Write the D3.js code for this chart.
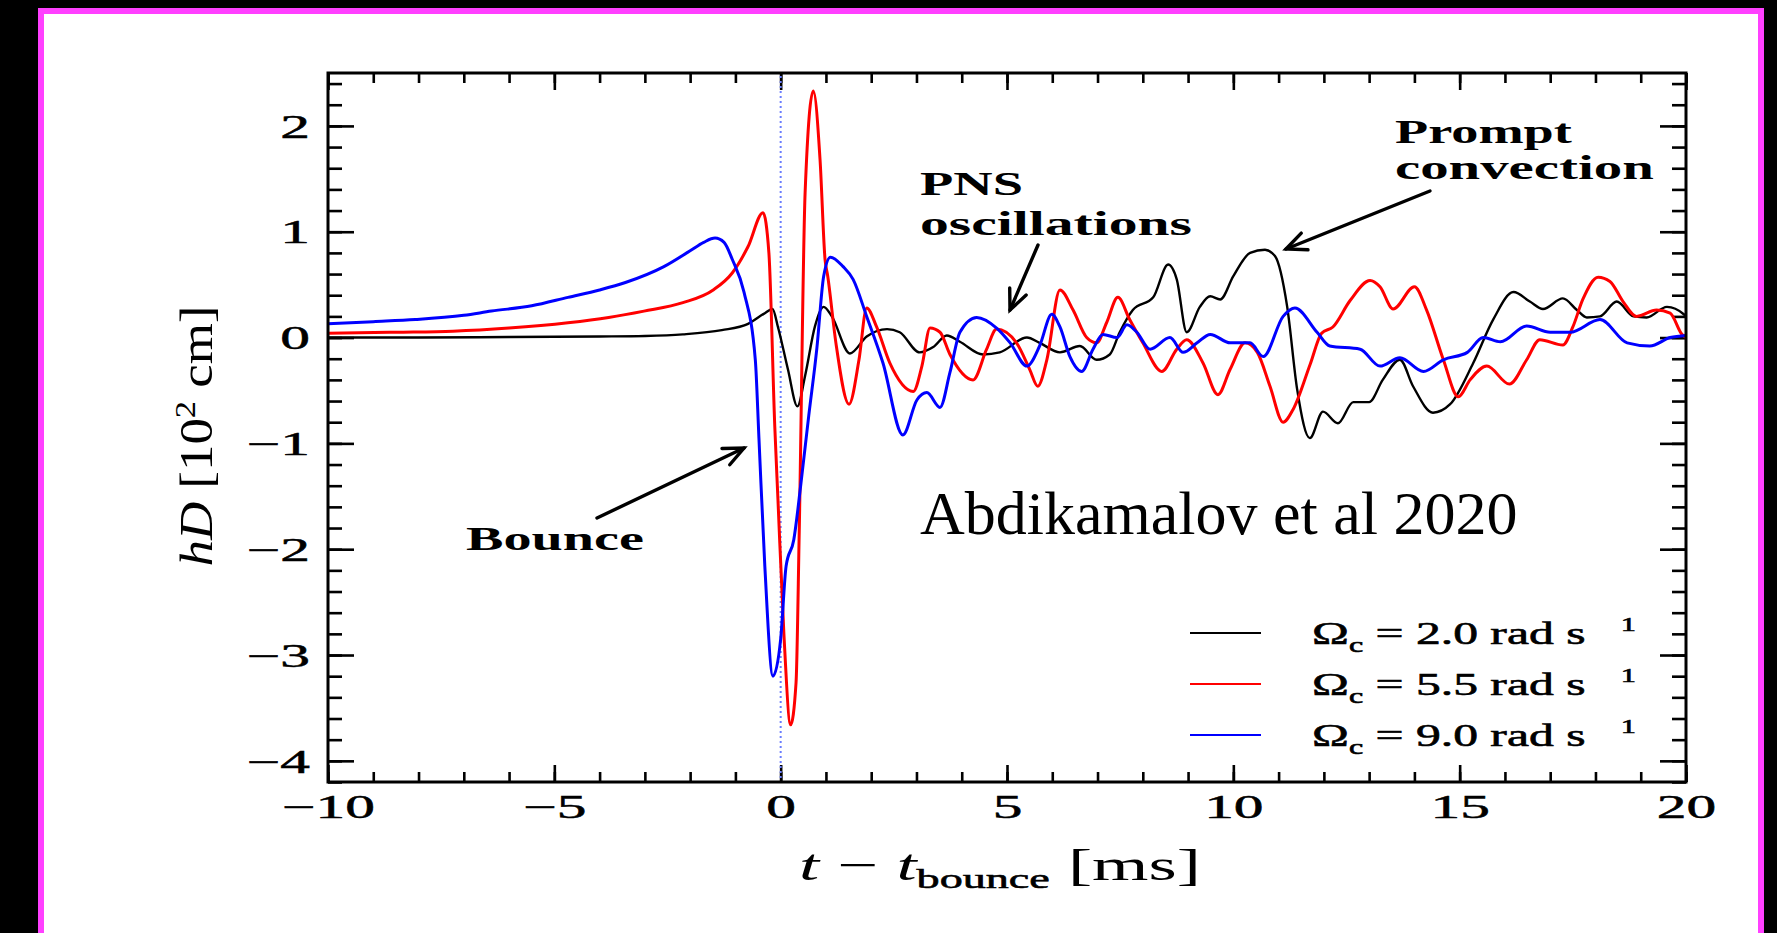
<!DOCTYPE html>
<html>
<head>
<meta charset="utf-8">
<script src="https://cdn.jsdelivr.net/npm/d3@7"></script>
<style>
  html, body { margin: 0; padding: 0; background: #000; }
  svg { display: block; }
</style>
</head>
<body>
<svg id="chart" width="1777" height="933"></svg>
<script>
// Gravitational-wave strain hD (10^2 cm) against time after bounce (ms)
// for three central rotation rates.

const xTicksMajor = [-10, -5, 0, 5, 10, 15, 20];
const yTicksMajor = [-4, -3, -2, -1, 0, 1, 2];
const legendRates = ["2.0", "5.5", "9.0"];

// Omega_c = 2.0 rad/s
const seriesSlow = [
  [-10, 0.0], [-8, 0.0], [-6, 0.005], [-4, 0.01], [-3, 0.015], [-2.16, 0.03],
  [-1.3, 0.07], [-0.72, 0.13], [-0.35, 0.23], [-0.18, 0.27], [-0.06, 0.1],
  [0.16, -0.3], [0.37, -0.65], [0.54, -0.36], [0.76, 0.11], [0.95, 0.29],
  [1.13, 0.2], [1.53, -0.15], [1.9, 0.01], [2.35, 0.08], [2.63, 0.05],
  [3.07, -0.14], [3.37, -0.09], [3.67, 0.02], [3.96, -0.04], [4.47, -0.16],
  [4.84, -0.14], [5.44, 0.0], [5.72, -0.05], [6.17, -0.14], [6.61, -0.08],
  [6.98, -0.21], [7.27, -0.16], [7.49, 0.05], [7.78, 0.26], [8.23, 0.38],
  [8.56, 0.69], [8.75, 0.55], [8.97, 0.05], [9.26, 0.29], [9.49, 0.39],
  [9.71, 0.36], [10.0, 0.58], [10.37, 0.8], [10.7, 0.83], [10.92, 0.77],
  [11.19, 0.29], [11.41, -0.49], [11.69, -0.95], [11.98, -0.7], [12.31, -0.81],
  [12.65, -0.61], [13.0, -0.61], [13.3, -0.4], [13.68, -0.21], [13.97, -0.46],
  [14.41, -0.71], [14.79, -0.63], [15.3, -0.24], [15.74, 0.17], [16.19, 0.43],
  [16.55, 0.34], [16.84, 0.27], [17.28, 0.37], [17.59, 0.26], [17.81, 0.19],
  [18.1, 0.2], [18.47, 0.34], [18.84, 0.2], [19.13, 0.19], [19.58, 0.29],
  [19.95, 0.22], [20, 0.2]
];

// Omega_c = 5.5 rad/s
const seriesMid = [
  [-10, 0.04], [-8.5, 0.05], [-7.24, 0.06], [-6, 0.09], [-4.7, 0.14], [-3.8, 0.19],
  [-3.02, 0.25], [-2.16, 0.33], [-1.49, 0.45], [-1.07, 0.61], [-0.72, 0.86],
  [-0.39, 1.18], [-0.26, 0.8], [-0.13, -0.84], [-0.06, -1.53], [0.07, -2.79],
  [0.22, -3.66], [0.34, -3.26], [0.41, -1.84], [0.54, 1.37], [0.72, 2.33],
  [0.87, 1.68], [0.98, 0.74], [1.04, 0.58], [1.22, -0.05], [1.51, -0.63],
  [1.73, -0.21], [1.9, 0.28], [2.12, 0.1], [2.41, -0.24], [2.93, -0.51],
  [3.12, -0.27], [3.3, 0.09], [3.52, 0.05], [3.74, -0.16], [4.25, -0.4],
  [4.55, -0.11], [4.77, 0.08], [5.21, -0.05], [5.5, -0.3], [5.68, -0.46],
  [5.88, -0.21], [6.17, 0.45], [6.46, 0.26], [6.76, 0.0], [6.98, -0.05],
  [7.2, 0.14], [7.45, 0.38], [7.71, 0.17], [8.0, -0.05], [8.42, -0.32],
  [8.75, -0.11], [8.97, -0.02], [9.33, -0.24], [9.66, -0.54], [9.93, -0.3],
  [10.26, -0.05], [10.53, -0.14], [10.81, -0.46], [11.1, -0.8], [11.32, -0.68],
  [11.7, -0.25], [11.95, 0.04], [12.2, 0.1], [12.58, 0.35], [13.02, 0.54],
  [13.24, 0.48], [13.53, 0.27], [14.0, 0.48], [14.27, 0.26], [14.64, -0.21],
  [14.97, -0.56], [15.23, -0.4], [15.6, -0.27], [16.1, -0.44], [16.48, -0.21],
  [16.77, -0.02], [17.28, -0.07], [17.5, 0.1], [17.72, 0.36], [18.06, 0.57],
  [18.32, 0.53], [18.61, 0.34], [18.91, 0.2], [19.35, 0.26], [19.65, 0.23],
  [19.91, 0.03], [20, 0.0]
];

// Omega_c = 9.0 rad/s
const seriesFast = [
  [-10, 0.13], [-9, 0.15], [-8.07, 0.17], [-7, 0.21], [-6.39, 0.25], [-5.5, 0.3],
  [-4.7, 0.38], [-4, 0.45], [-3.43, 0.52], [-2.58, 0.67], [-2.0, 0.82],
  [-1.7, 0.9], [-1.45, 0.94], [-1.25, 0.9], [-1.07, 0.74], [-0.81, 0.43],
  [-0.56, -0.21], [-0.48, -0.95], [-0.35, -2.16], [-0.17, -3.2], [0.0, -2.85],
  [0.12, -2.16], [0.29, -1.91], [0.45, -1.37], [0.62, -0.74], [0.8, -0.1],
  [0.95, 0.58], [1.1, 0.76], [1.38, 0.67], [1.6, 0.55], [1.9, 0.2], [2.26, -0.24],
  [2.7, -0.92], [3.01, -0.59], [3.23, -0.52], [3.52, -0.66], [3.74, -0.33],
  [3.96, 0.05], [4.33, 0.19], [4.77, 0.09], [5.07, -0.05], [5.44, -0.27],
  [5.72, -0.08], [5.99, 0.22], [6.17, 0.1], [6.39, -0.18], [6.65, -0.32],
  [6.9, -0.11], [7.12, 0.03], [7.43, 0.0], [7.65, 0.12], [7.87, 0.05],
  [8.16, -0.11], [8.6, 0.0], [8.89, -0.14], [9.2, -0.05], [9.49, 0.03],
  [9.93, -0.05], [10.37, -0.05], [10.66, -0.18], [11.1, 0.2], [11.36, 0.28],
  [11.85, 0.05], [12.13, -0.08], [12.8, -0.11], [13.24, -0.27], [13.68, -0.19],
  [14.2, -0.32], [14.64, -0.21], [15.17, -0.14], [15.52, 0.0], [15.9, -0.04],
  [16.48, 0.11], [17.0, 0.05], [17.44, 0.05], [18.1, 0.17], [18.7, -0.05],
  [19.2, -0.08], [19.65, 0.0], [20, 0.02]
];

const seriesList = [
  { rate: legendRates[0], data: seriesSlow, color: "#000000", width: 2.4 },
  { rate: legendRates[1], data: seriesMid,  color: "#ff0000", width: 3 },
  { rate: legendRates[2], data: seriesFast, color: "#0000ff", width: 3 }
];

// ---------------------------------------------------------------- layout
const svg = d3.select("#chart");
const plot = { left: 328, right: 1686, top: 73, bottom: 782 };
const serif = "'Liberation Serif', 'Times New Roman', serif";

const x = d3.scaleLinear().domain([-10, 20]).range([plot.left, plot.right]);
const y = d3.scaleLinear().domain([-4.2, 2.5]).range([plot.bottom, plot.top]);

// page frame
svg.append("rect")
  .attr("x", 41).attr("y", 11).attr("width", 1720).attr("height", 1000)
  .attr("fill", "#ffffff").attr("stroke", "#ff40ff").attr("stroke-width", 6);

// stretch a text element horizontally (in its own frame) to a target width
function fitText(sel, targetW, tx, ty, rotate = 0) {
  const w = sel.node().getBBox().width;
  sel.attr("transform", `translate(${tx},${ty}) rotate(${rotate}) scale(${targetW / w},1)`);
  return sel;
}

// ---------------------------------------------------------------- axes
const xMinor = d3.range(-10, 20.5, 1);
const yMinor = d3.range(-4.2, 2.51, 0.2).map(v => Math.round(v * 10) / 10);

function tickLayer(axis, tf) {
  const g = svg.append("g").attr("transform", tf).call(axis);
  g.select(".domain").remove();
  g.selectAll(".tick line").attr("stroke", "#000").attr("stroke-width", 2.6);
  return g;
}

// minor ticks, all four sides, pointing inward
tickLayer(d3.axisBottom(x).tickValues(xMinor).tickSize(-10).tickFormat(""), `translate(0,${plot.bottom})`);
tickLayer(d3.axisTop(x).tickValues(xMinor).tickSize(-10).tickFormat(""), `translate(0,${plot.top})`);
tickLayer(d3.axisLeft(y).tickValues(yMinor).tickSize(-14).tickFormat(""), `translate(${plot.left},0)`);
tickLayer(d3.axisRight(y).tickValues(yMinor).tickSize(-14).tickFormat(""), `translate(${plot.right},0)`);

// major ticks
const fmt = d3.format("d");
const xAxisG = tickLayer(d3.axisBottom(x).tickValues(xTicksMajor).tickSize(-17).tickFormat(fmt), `translate(0,${plot.bottom})`);
tickLayer(d3.axisTop(x).tickValues(xTicksMajor).tickSize(-17).tickFormat(""), `translate(0,${plot.top})`);
const yAxisG = tickLayer(d3.axisLeft(y).tickValues(yTicksMajor).tickSize(-26).tickFormat(fmt), `translate(${plot.left},0)`);
tickLayer(d3.axisRight(y).tickValues(yTicksMajor).tickSize(-26).tickFormat(""), `translate(${plot.right},0)`);

function styleTickText(sel) {
  sel.attr("font-family", serif).attr("font-size", 33).attr("fill", "#000")
    .attr("stroke", "#000").attr("stroke-width", 0.5)
    .attr("x", null).attr("y", null);
}
xAxisG.selectAll(".tick text").call(styleTickText)
  .attr("dy", null).attr("text-anchor", "middle")
  .attr("transform", "translate(0,36) scale(1.8,1)");
yAxisG.selectAll(".tick text").call(styleTickText)
  .attr("dy", "0.34em").attr("text-anchor", "end")
  .attr("transform", "translate(-18,0) scale(1.8,1)");

// ---------------------------------------------------------------- bounce marker
svg.append("line")
  .attr("x1", x(0)).attr("x2", x(0)).attr("y1", plot.top + 3).attr("y2", plot.bottom - 3)
  .attr("stroke", "#6a7dff").attr("stroke-width", 2).attr("stroke-dasharray", "2,3");

// ---------------------------------------------------------------- curves
const line = d3.line().x(d => x(d[0])).y(d => y(d[1])).curve(d3.curveMonotoneX);
svg.append("clipPath").attr("id", "plotClip")
  .append("rect").attr("x", plot.left).attr("y", plot.top)
  .attr("width", plot.right - plot.left).attr("height", plot.bottom - plot.top);

svg.append("g").attr("clip-path", "url(#plotClip)")
  .selectAll("path").data(seriesList).join("path")
  .attr("d", d => line(d.data))
  .attr("fill", "none").attr("stroke", d => d.color).attr("stroke-width", d => d.width)
  .attr("stroke-linejoin", "round");

// frame
svg.append("rect")
  .attr("x", plot.left).attr("y", plot.top)
  .attr("width", plot.right - plot.left).attr("height", plot.bottom - plot.top)
  .attr("fill", "none").attr("stroke", "#000").attr("stroke-width", 3);

// ---------------------------------------------------------------- axis titles
const yTitle = svg.append("text").attr("font-family", serif).attr("font-size", 46)
  .attr("text-anchor", "middle").attr("fill", "#000");
yTitle.append("tspan").attr("font-style", "italic").text("hD");
yTitle.append("tspan").text(" [10");
yTitle.append("tspan").attr("font-size", 30).attr("dy", -17).text("2");
yTitle.append("tspan").attr("dy", 17).text(" cm]");
fitText(yTitle, 261, 212, 436, -90);

const xTitle = svg.append("text").attr("font-family", serif).attr("font-size", 44)
  .attr("text-anchor", "middle").attr("fill", "#000");
xTitle.append("tspan").attr("font-style", "italic").text("t");
xTitle.append("tspan").text(" \u2212 ");
xTitle.append("tspan").attr("font-style", "italic").text("t");
xTitle.append("tspan").attr("font-size", 28).attr("dy", 8)
  .attr("stroke", "#000").attr("stroke-width", 0.6).text("bounce");
xTitle.append("tspan").attr("dy", -8).text("  [ms]");
fitText(xTitle, 402, 1000, 880);

// ---------------------------------------------------------------- legend
const legend = svg.append("g");
seriesList.forEach((s, i) => {
  const ly = 633 + i * 51;
  legend.append("line")
    .attr("x1", 1190).attr("x2", 1261).attr("y1", ly).attr("y2", ly)
    .attr("stroke", s.color).attr("stroke-width", 2.2);
  const t = legend.append("text").attr("font-family", serif).attr("font-size", 31)
    .attr("fill", "#000").attr("stroke", "#000").attr("stroke-width", 0.6);
  t.append("tspan").text("\u03A9");
  t.append("tspan").attr("font-size", 20).attr("dy", 8).text("c");
  t.append("tspan").attr("dy", -8).text(` = ${s.rate} rad s`);
  t.append("tspan").attr("font-size", 19).attr("dy", -13).attr("dx", 22).text("1");
  fitText(t, 324, 1312, ly + 11);
});

// ---------------------------------------------------------------- annotations
const noteStyle = sel => sel.attr("font-family", serif).attr("font-size", 34)
  .attr("font-weight", "bold").attr("fill", "#000");

[
  { text: "PNS", x: 920, y: 195, w: 103 },
  { text: "oscillations", x: 920, y: 235, w: 272 },
  { text: "Prompt", x: 1395, y: 143, w: 178 },
  { text: "convection", x: 1395, y: 179, w: 259 },
  { text: "Bounce", x: 466, y: 550, w: 178 }
].forEach(n => {
  const t = svg.append("text").call(noteStyle).text(n.text);
  fitText(t, n.w, n.x, n.y);
});

function arrow(x1, y1, x2, y2) {
  const g = svg.append("g").attr("stroke", "#000").attr("fill", "none")
    .attr("stroke-width", 3.4).attr("stroke-linecap", "round");
  g.append("line").attr("x1", x1).attr("y1", y1).attr("x2", x2).attr("y2", y2);
  const a = Math.atan2(y2 - y1, x2 - x1), L = 22, spread = 0.42;
  const p = d3.path();
  p.moveTo(x2 - L * Math.cos(a - spread), y2 - L * Math.sin(a - spread));
  p.lineTo(x2, y2);
  p.lineTo(x2 - L * Math.cos(a + spread), y2 - L * Math.sin(a + spread));
  g.append("path").attr("d", p.toString()).attr("stroke-linejoin", "miter");
}
arrow(1430, 191, 1286, 249);
arrow(1038, 245, 1010, 310);
arrow(597, 518, 744, 448);

// ---------------------------------------------------------------- citation
svg.append("text")
  .attr("x", 920).attr("y", 534)
  .attr("font-family", "'Liberation Serif', 'Times New Roman', serif")
  .attr("font-size", 62).attr("fill", "#000")
  .text("Abdikamalov et al 2020");
</script>
</body>
</html>
